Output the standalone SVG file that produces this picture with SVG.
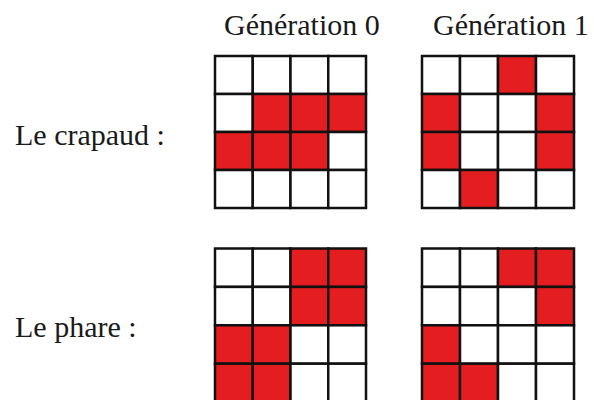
<svg xmlns="http://www.w3.org/2000/svg" width="594" height="400" viewBox="0 0 594 400">
<style>
.c{fill:#ffffff;stroke:#111111;stroke-width:2.5}
.r{fill:#e41e20;stroke:#111111;stroke-width:2.5}
</style>
<rect width="594" height="400" fill="#ffffff"/>
<g id="labels" font-family="Liberation Serif, Times New Roman, DejaVu Serif, serif" font-size="30" fill="#1a1a1a">
<text x="224" y="35">Génération 0</text>
<text x="433" y="35">Génération 1</text>
<text x="15" y="145">Le crapaud :</text>
<text x="15" y="337">Le phare :</text>
</g>
<g id="crapaud-gen0">
<rect class="c" x="215" y="56" width="37.75" height="38"/><rect class="c" x="252.75" y="56" width="37.75" height="38"/><rect class="c" x="290.5" y="56" width="37.75" height="38"/><rect class="c" x="328.25" y="56" width="37.75" height="38"/>
<rect class="c" x="215" y="94" width="37.75" height="38"/><rect class="r" x="252.75" y="94" width="37.75" height="38"/><rect class="r" x="290.5" y="94" width="37.75" height="38"/><rect class="r" x="328.25" y="94" width="37.75" height="38"/>
<rect class="r" x="215" y="132" width="37.75" height="38"/><rect class="r" x="252.75" y="132" width="37.75" height="38"/><rect class="r" x="290.5" y="132" width="37.75" height="38"/><rect class="c" x="328.25" y="132" width="37.75" height="38"/>
<rect class="c" x="215" y="170" width="37.75" height="38"/><rect class="c" x="252.75" y="170" width="37.75" height="38"/><rect class="c" x="290.5" y="170" width="37.75" height="38"/><rect class="c" x="328.25" y="170" width="37.75" height="38"/>
</g>
<g id="crapaud-gen1">
<rect class="c" x="422" y="56" width="38" height="38"/><rect class="c" x="460" y="56" width="38" height="38"/><rect class="r" x="498" y="56" width="38" height="38"/><rect class="c" x="536" y="56" width="38" height="38"/>
<rect class="r" x="422" y="94" width="38" height="38"/><rect class="c" x="460" y="94" width="38" height="38"/><rect class="c" x="498" y="94" width="38" height="38"/><rect class="r" x="536" y="94" width="38" height="38"/>
<rect class="r" x="422" y="132" width="38" height="38"/><rect class="c" x="460" y="132" width="38" height="38"/><rect class="c" x="498" y="132" width="38" height="38"/><rect class="r" x="536" y="132" width="38" height="38"/>
<rect class="c" x="422" y="170" width="38" height="38"/><rect class="r" x="460" y="170" width="38" height="38"/><rect class="c" x="498" y="170" width="38" height="38"/><rect class="c" x="536" y="170" width="38" height="38"/>
</g>
<g id="phare-gen0">
<rect class="c" x="215" y="248.5" width="37.75" height="38.4"/><rect class="c" x="252.75" y="248.5" width="37.75" height="38.4"/><rect class="r" x="290.5" y="248.5" width="37.75" height="38.4"/><rect class="r" x="328.25" y="248.5" width="37.75" height="38.4"/>
<rect class="c" x="215" y="286.9" width="37.75" height="38.4"/><rect class="c" x="252.75" y="286.9" width="37.75" height="38.4"/><rect class="r" x="290.5" y="286.9" width="37.75" height="38.4"/><rect class="r" x="328.25" y="286.9" width="37.75" height="38.4"/>
<rect class="r" x="215" y="325.3" width="37.75" height="38.4"/><rect class="r" x="252.75" y="325.3" width="37.75" height="38.4"/><rect class="c" x="290.5" y="325.3" width="37.75" height="38.4"/><rect class="c" x="328.25" y="325.3" width="37.75" height="38.4"/>
<rect class="r" x="215" y="363.7" width="37.75" height="38.4"/><rect class="r" x="252.75" y="363.7" width="37.75" height="38.4"/><rect class="c" x="290.5" y="363.7" width="37.75" height="38.4"/><rect class="c" x="328.25" y="363.7" width="37.75" height="38.4"/>
</g>
<g id="phare-gen1">
<rect class="c" x="422" y="248.5" width="38" height="38.4"/><rect class="c" x="460" y="248.5" width="38" height="38.4"/><rect class="r" x="498" y="248.5" width="38" height="38.4"/><rect class="r" x="536" y="248.5" width="38" height="38.4"/>
<rect class="c" x="422" y="286.9" width="38" height="38.4"/><rect class="c" x="460" y="286.9" width="38" height="38.4"/><rect class="c" x="498" y="286.9" width="38" height="38.4"/><rect class="r" x="536" y="286.9" width="38" height="38.4"/>
<rect class="r" x="422" y="325.3" width="38" height="38.4"/><rect class="c" x="460" y="325.3" width="38" height="38.4"/><rect class="c" x="498" y="325.3" width="38" height="38.4"/><rect class="c" x="536" y="325.3" width="38" height="38.4"/>
<rect class="r" x="422" y="363.7" width="38" height="38.4"/><rect class="r" x="460" y="363.7" width="38" height="38.4"/><rect class="c" x="498" y="363.7" width="38" height="38.4"/><rect class="c" x="536" y="363.7" width="38" height="38.4"/>
</g>
<g id="connectors"/>
</svg>
